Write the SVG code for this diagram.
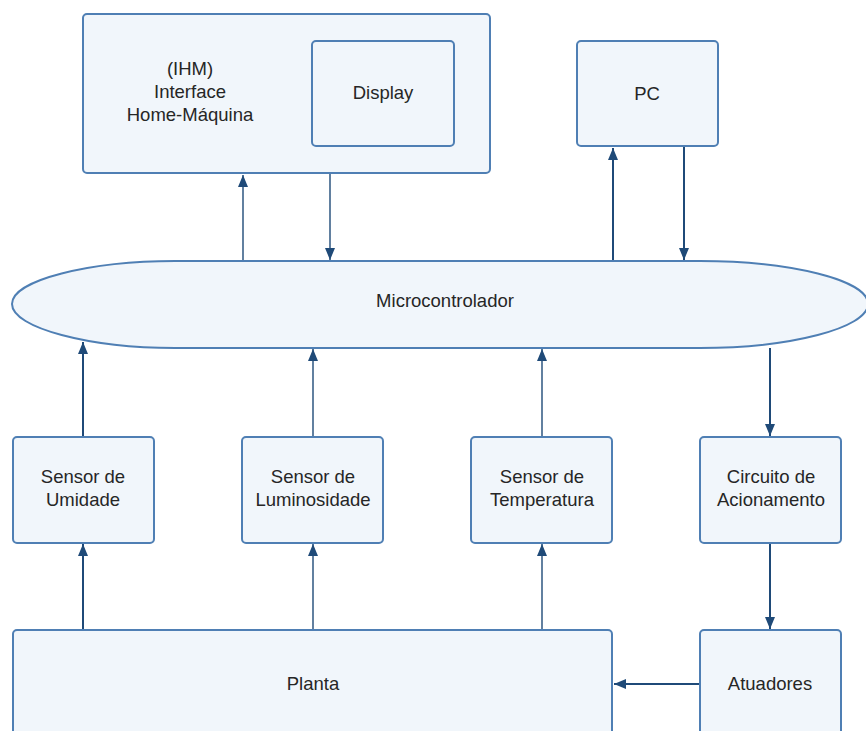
<svg xmlns="http://www.w3.org/2000/svg" width="866" height="731" viewBox="0 0 866 731">
  <defs>
    <style>
      .box { fill: #f1f6fb; stroke: #4f7fb4; stroke-width: 2; }
      .lbl { font-family: "Liberation Sans", Arial, sans-serif; font-size: 18.5px; fill: #262626; text-anchor: middle; }
      .edge { stroke: #1f4a78; fill: none; }
      .thick { stroke-width: 2; }
      .thin { stroke-width: 1.4; }
    </style>
    <marker id="arr" markerUnits="userSpaceOnUse" markerWidth="12" markerHeight="12" viewBox="0 0 12 12" refX="12" refY="6" orient="auto">
      <path d="M0,1 L12,6 L0,11 Z" fill="#1f4a78"/>
    </marker>
  </defs>
  <rect width="866" height="731" fill="#ffffff"/>

  <g id="connectors">
    <line class="edge thin" x1="243" y1="261" x2="243" y2="175" marker-end="url(#arr)"/>
    <line class="edge thin" x1="330" y1="174" x2="330" y2="260" marker-end="url(#arr)"/>
    <line class="edge thick" x1="613" y1="261" x2="613" y2="148" marker-end="url(#arr)"/>
    <line class="edge thick" x1="684" y1="147" x2="684" y2="260" marker-end="url(#arr)"/>
    <line class="edge thick" x1="83" y1="437" x2="83" y2="342" marker-end="url(#arr)"/>
    <line class="edge thin" x1="313" y1="437" x2="313" y2="349" marker-end="url(#arr)"/>
    <line class="edge thin" x1="542" y1="437" x2="542" y2="349" marker-end="url(#arr)"/>
    <line class="edge thick" x1="770" y1="348" x2="770" y2="436" marker-end="url(#arr)"/>
    <line class="edge thick" x1="83" y1="630" x2="83" y2="544" marker-end="url(#arr)"/>
    <line class="edge thin" x1="313" y1="630" x2="313" y2="544" marker-end="url(#arr)"/>
    <line class="edge thin" x1="542" y1="630" x2="542" y2="544" marker-end="url(#arr)"/>
    <line class="edge thick" x1="770" y1="543" x2="770" y2="629" marker-end="url(#arr)"/>
    <line class="edge thick" x1="700" y1="684" x2="614" y2="684" marker-end="url(#arr)"/>
  </g>

  <g id="ihm">
    <rect class="box" x="83" y="14" width="407" height="159" rx="4"/>
    <text class="lbl" x="190" y="75">(IHM)</text>
    <text class="lbl" x="190" y="98">Interface</text>
    <text class="lbl" x="190" y="121">Home-Máquina</text>
  </g>
  <g id="display">
    <rect class="box" x="312" y="41" width="142" height="105" rx="4"/>
    <text class="lbl" x="383" y="99">Display</text>
  </g>
  <g id="pc">
    <rect class="box" x="577" y="41" width="141" height="105" rx="4"/>
    <text class="lbl" x="647" y="100">PC</text>
  </g>
  <g id="microcontrolador">
    <path class="box" d="M12,304 C12,280 90,261 175,261 L700,261 C790,261 868,280 868,304 C868,328 790,348 700,348 L175,348 C90,348 12,328 12,304 Z"/>
    <text class="lbl" x="445" y="307">Microcontrolador</text>
  </g>
  <g id="sensor-umidade">
    <rect class="box" x="13" y="437" width="141" height="106" rx="4"/>
    <text class="lbl" x="83" y="483">Sensor de</text>
    <text class="lbl" x="83" y="506">Umidade</text>
  </g>
  <g id="sensor-luminosidade">
    <rect class="box" x="242" y="437" width="141" height="106" rx="4"/>
    <text class="lbl" x="313" y="483">Sensor de</text>
    <text class="lbl" x="313" y="506">Luminosidade</text>
  </g>
  <g id="sensor-temperatura">
    <rect class="box" x="471" y="437" width="141" height="106" rx="4"/>
    <text class="lbl" x="542" y="483">Sensor de</text>
    <text class="lbl" x="542" y="506">Temperatura</text>
  </g>
  <g id="circuito-acionamento">
    <rect class="box" x="700" y="437" width="141" height="106" rx="4"/>
    <text class="lbl" x="771" y="483">Circuito de</text>
    <text class="lbl" x="771" y="506">Acionamento</text>
  </g>
  <g id="planta">
    <rect class="box" x="13" y="630" width="599" height="120" rx="4"/>
    <text class="lbl" x="313" y="690">Planta</text>
  </g>
  <g id="atuadores">
    <rect class="box" x="700" y="630" width="141" height="120" rx="4"/>
    <text class="lbl" x="770" y="690">Atuadores</text>
  </g>
</svg>
